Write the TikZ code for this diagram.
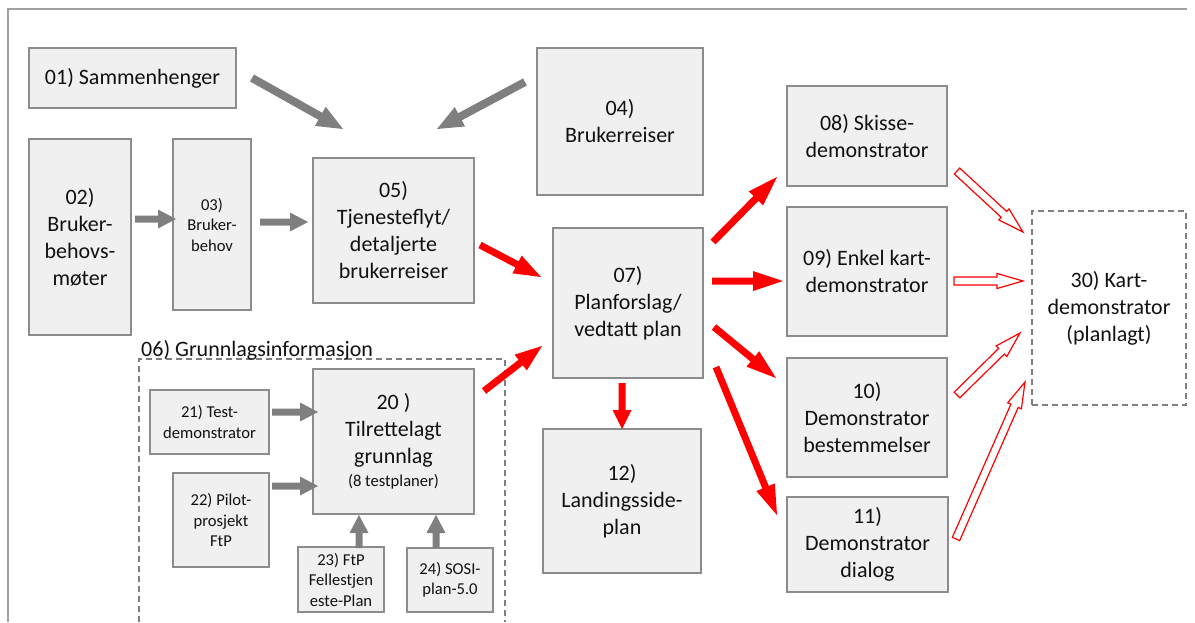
\documentclass[tikz,border=0pt]{standalone}
\usepackage{fontspec}
\setmainfont{Carlito}
\usetikzlibrary{calc}
\definecolor{boxfill}{HTML}{F0F0F0}
\definecolor{boxline}{HTML}{8C8C8C}
\definecolor{arrgray}{HTML}{7F7F7F}
\definecolor{dashgray}{HTML}{7F7F7F}
\definecolor{framegray}{HTML}{A0A0A0}
\definecolor{txt}{HTML}{111111}
% #1 style, #2 from, #3 to, #4 shaft half width, #5 head half width, #6 head length
\newcommand\blockarrow[6]{%
  \coordinate (bah) at ($(#3)!#6!(#2)$);
  \path[#1] ($(#2)!#4!90:(#3)$) -- ($(bah)!#4!90:(#3)$) -- ($(bah)!#5!90:(#3)$) -- (#3)
    -- ($(bah)!#5!-90:(#3)$) -- ($(bah)!#4!-90:(#3)$) -- ($(#2)!#4!-90:(#3)$) -- cycle;}
\begin{document}
\begin{tikzpicture}[x=1pt,y=-1pt,
  box/.style={draw=boxline, line width=1.3pt, fill=boxfill, align=center, inner sep=0pt,
    text=txt, font=\fontsize{22}{27}\selectfont},
  smallbox/.style={box, font=\fontsize{16.6}{20.5}\selectfont},
  dashbox/.style={draw=dashgray, line width=1.1pt, dash pattern=on 6pt off 4pt, align=center,
    inner sep=0pt, text=txt, font=\fontsize{22}{27}\selectfont},
  grouplabel/.style={inner sep=0pt, text=txt, font=\fontsize{22}{27}\selectfont},
  framestyle/.style={draw=framegray, line width=1.4pt},
  grayarrow/.style={fill=arrgray},
  redarrow/.style={fill=red},
  hollowarrow/.style={draw=red, fill=white, line width=1.2pt, line join=miter}]
\useasboundingbox (0,0) rectangle (1195,622);

% outer frame
\draw[framestyle] (1187,9) -- (8,9) -- (8,622);

% group 06
\draw[dashbox] (139,622) -- (139,359) -- (505,359) -- (505,622);
\node[grouplabel, anchor=base west] (l06) at (141,356) {06) Grunnlagsinformasjon};

% boxes
\node[box, minimum width=207pt, minimum height=60pt] (n01) at (132.5,78) {01) Sammenhenger};
\node[box, minimum width=102pt, minimum height=196pt] (n02) at (80,237) {02)\\Bruker-\\behovs-\\møter};
\node[smallbox, minimum width=78pt, minimum height=171pt] (n03) at (212,224.5) {03)\\Bruker-\\behov};
\node[box, minimum width=166pt, minimum height=147pt] (n04) at (620,121.5) {04)\\Brukerreiser};
\node[box, minimum width=161pt, minimum height=145pt] (n05) at (393.5,230.5) {05)\\Tjenesteflyt/\\detaljerte\\brukerreiser};
\node[box, minimum width=150pt, minimum height=150pt] (n07) at (628,303) {07)\\Planforslag/\\vedtatt plan};
\node[box, minimum width=160pt, minimum height=100pt] (n08) at (867,136) {08) Skisse-\\demonstrator};
\node[box, minimum width=160pt, minimum height=129pt] (n09) at (867,271.5) {09) Enkel kart-\\demonstrator};
\node[box, minimum width=160pt, minimum height=119pt] (n10) at (867,417.5) {10)\\Demonstrator\\bestemmelser};
\node[box, minimum width=161pt, minimum height=95pt] (n11) at (867.5,544.5) {11)\\Demonstrator\\dialog};
\node[box, minimum width=158pt, minimum height=144pt] (n12) at (622,501) {12)\\Landingsside-\\plan};
\node[dashbox, minimum width=154pt, minimum height=194pt] (n30) at (1109,308) {30) Kart-\\demonstrator\\(planlagt)};
\node[box, minimum width=161pt, minimum height=145pt] (n20) at (393.5,441.5) {20 )\\Tilrettelagt\\grunnlag\\[-4pt]{\fontsize{16.6}{20}\selectfont (8 testplaner)}};
\node[smallbox, minimum width=119pt, minimum height=64pt] (n21) at (209.5,422) {21) Test-\\demonstrator};
\node[smallbox, minimum width=96pt, minimum height=94pt] (n22) at (221,520) {22) Pilot-\\prosjekt\\FtP};
\node[smallbox, minimum width=86pt, minimum height=65pt] (n23) at (341,579.5) {23) FtP\\Fellestjen\\este-Plan};
\node[smallbox, minimum width=86pt, minimum height=64pt] (n24) at (450,580) {24) SOSI-\\plan-5.0};

% arrow end points
\coordinate (a1s) at (252,78);   \coordinate (a1e) at (343,129);
\coordinate (a2s) at (525,82);   \coordinate (a2e) at (437,129);
\coordinate (a3s) at (135,219);  \coordinate (a3e) at (176,219);
\coordinate (a4s) at (260,222);  \coordinate (a4e) at (308,222);
\coordinate (a5s) at (272,412);  \coordinate (a5e) at (318,412);
\coordinate (a6s) at (272,486);  \coordinate (a6e) at (318,486);
\coordinate (a7s) at (359,548);  \coordinate (a7e) at (359,515);
\coordinate (a8s) at (436,548);  \coordinate (a8e) at (436,515);

\coordinate (r1s) at (480,245);  \coordinate (r1e) at (541,277);
\coordinate (r2s) at (484,391);  \coordinate (r2e) at (542,346);
\coordinate (r3s) at (713,242);  \coordinate (r3e) at (777,177);
\coordinate (r4s) at (712,281);  \coordinate (r4e) at (783,281);
\coordinate (r5s) at (714,327);  \coordinate (r5e) at (776,378);
\coordinate (r6s) at (716,367);  \coordinate (r6e) at (777,515);
\coordinate (r7s) at (622,383);  \coordinate (r7e) at (622,429);

\coordinate (h1s) at (957,171);  \coordinate (h1e) at (1023,232);
\coordinate (h2s) at (954,281);  \coordinate (h2e) at (1023,281);
\coordinate (h3s) at (957,395);  \coordinate (h3e) at (1020,333);
\coordinate (h4s) at (956,539);  \coordinate (h4e) at (1025,382);

% gray arrows
\blockarrow{grayarrow}{a1s}{a1e}{4pt}{11pt}{26pt}
\blockarrow{grayarrow}{a2s}{a2e}{4pt}{11pt}{26pt}
\blockarrow{grayarrow}{a3s}{a3e}{3.5pt}{9.5pt}{18pt}
\blockarrow{grayarrow}{a4s}{a4e}{3.5pt}{9.5pt}{18pt}
\blockarrow{grayarrow}{a5s}{a5e}{3.5pt}{9.5pt}{18pt}
\blockarrow{grayarrow}{a6s}{a6e}{3.5pt}{9.5pt}{18pt}
\blockarrow{grayarrow}{a7s}{a7e}{3.5pt}{9.5pt}{18pt}
\blockarrow{grayarrow}{a8s}{a8e}{3.5pt}{9.5pt}{18pt}

% red arrows
\blockarrow{redarrow}{r1s}{r1e}{3.5pt}{10pt}{27pt}
\blockarrow{redarrow}{r2s}{r2e}{3.5pt}{10pt}{27pt}
\blockarrow{redarrow}{r3s}{r3e}{3.5pt}{10pt}{30pt}
\blockarrow{redarrow}{r4s}{r4e}{3.5pt}{10pt}{30pt}
\blockarrow{redarrow}{r5s}{r5e}{3.5pt}{10pt}{30pt}
\blockarrow{redarrow}{r6s}{r6e}{3.5pt}{10pt}{30pt}
\blockarrow{redarrow}{r7s}{r7e}{3.5pt}{9.5pt}{19pt}

% hollow arrows
\blockarrow{hollowarrow}{h1s}{h1e}{4pt}{7.5pt}{26pt}
\blockarrow{hollowarrow}{h2s}{h2e}{4pt}{7.5pt}{26pt}
\blockarrow{hollowarrow}{h3s}{h3e}{4pt}{7.5pt}{26pt}
\blockarrow{hollowarrow}{h4s}{h4e}{4pt}{7.5pt}{26pt}
\end{tikzpicture}
\end{document}
